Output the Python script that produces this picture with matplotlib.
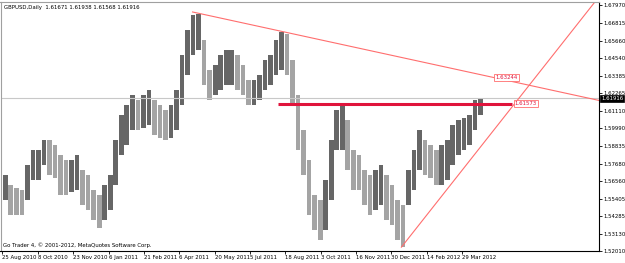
import numpy as np
import matplotlib
matplotlib.use("Agg")
import matplotlib.pyplot as plt

# ------------------
# data (weekly high / low, GBPUSD daily chart)
# ------------------
week_hi = [1.5694, 1.5629, 1.5609, 1.5596, 1.5759, 1.5856, 1.5856, 1.5921, 1.5921, 1.5889,
           1.5824, 1.5791, 1.5791, 1.5824, 1.5726, 1.5694, 1.5596, 1.5564, 1.5629, 1.5694,
           1.5921, 1.6083, 1.6148, 1.6213, 1.6180, 1.6213, 1.6245, 1.6180, 1.6148, 1.6116,
           1.6148, 1.6245, 1.6473, 1.6635, 1.6732, 1.6739, 1.6570, 1.6375, 1.6408, 1.6473,
           1.6505, 1.6505, 1.6473, 1.6408, 1.6310, 1.6310, 1.6343, 1.6440, 1.6473, 1.6570,
           1.6622, 1.6609, 1.6440, 1.6213, 1.5986, 1.5791, 1.5564, 1.5531, 1.5661, 1.5921,
           1.6116, 1.6148, 1.6051, 1.5856, 1.5824, 1.5726, 1.5694, 1.5726, 1.5759, 1.5694,
           1.5629, 1.5531, 1.5499, 1.5726, 1.5856, 1.5986, 1.5921, 1.5889, 1.5856, 1.5889,
           1.5921, 1.6018, 1.6051, 1.6064, 1.6083, 1.6180, 1.6194]
week_lo = [1.5531, 1.5434, 1.5434, 1.5434, 1.5531, 1.5661, 1.5661, 1.5759, 1.5694, 1.5674,
           1.5564, 1.5564, 1.5583, 1.5596, 1.5499, 1.5467, 1.5402, 1.5350, 1.5402, 1.5467,
           1.5629, 1.5824, 1.5889, 1.5986, 1.5986, 1.5999, 1.6018, 1.5953, 1.5934, 1.5921,
           1.5934, 1.5986, 1.6148, 1.6343, 1.6473, 1.6505, 1.6278, 1.6180, 1.6213, 1.6245,
           1.6278, 1.6278, 1.6245, 1.6213, 1.6148, 1.6148, 1.6180, 1.6245, 1.6278, 1.6343,
           1.6375, 1.6343, 1.6148, 1.5856, 1.5694, 1.5434, 1.5337, 1.5272, 1.5337, 1.5531,
           1.5856, 1.5856, 1.5726, 1.5596, 1.5596, 1.5499, 1.5434, 1.5467, 1.5499, 1.5402,
           1.5369, 1.5272, 1.5227, 1.5499, 1.5596, 1.5726, 1.5694, 1.5674, 1.5629, 1.5629,
           1.5661, 1.5759, 1.5824, 1.5856, 1.5889, 1.5986, 1.6083]

date_labels = ["25 Aug 2010", "8 Oct 2010", "23 Nov 2010", "6 Jan 2011", "21 Feb 2011",
               "6 Apr 2011", "20 May 2011", "5 Jul 2011", "18 Aug 2011", "3 Oct 2011",
               "16 Nov 2011", "30 Dec 2011", "14 Feb 2012", "29 Mar 2012"]
price_ticks = [1.67970, 1.66815, 1.65660, 1.64540, 1.63385, 1.62265, 1.61110, 1.59990,
               1.58835, 1.57680, 1.56560, 1.55405, 1.54285, 1.53130, 1.52010]

title = "GBPUSD,Daily  1.61671 1.61938 1.61568 1.61916"
last_close = 1.61916
# trend lines: (bar index, price)
down_line = [(172, 1.6752), (446, 1.63244)]
up_line = [(361, 1.5226), (476, 1.6271)]
level = 1.61573
level_span = (249.5, 461)

BARS_PER_LABEL = 32
DAYS_PER_WEEK = 5

fonts = ["DejaVu Sans Condensed", "DejaVu Sans"]
fs = 3.9
red = "#e0143c"
light_red = "#ff6e6e"


def main():
	fig = plt.figure(figsize=(6.25, 2.63), dpi=100)
	ax = fig.add_axes([0.5 / 625, 12 / 263, 598.5 / 625, 249.5 / 263])

	hi = np.array(week_hi)
	lo = np.array(week_lo)
	mid = (hi + lo) / 2
	up = np.r_[True, mid[1:] >= mid[:-1]]
	colors = np.where(up, "#666666", "#a4a4a4")
	x = np.arange(len(hi)) * DAYS_PER_WEEK
	ax.bar(x + 0.4, hi - lo, bottom=lo, width=DAYS_PER_WEEK - 0.8, align="edge",
	       color=colors, linewidth=0)

	# bid line
	ax.axhline(last_close, color="#c8c8c8", lw=0.8, zorder=1)

	# horizontal level
	ax.plot(level_span, [level, level], color=red, lw=2.2, solid_capstyle="butt")
	ax.annotate("%.5f" % level, xy=(level_span[1], level), xytext=(2, 0),
	            textcoords="offset points", ha="left", va="center",
	            fontsize=fs, family=fonts, color=red,
	            bbox=dict(boxstyle="square,pad=0.2", fc="white", ec=light_red, lw=0.6))

	xmin, xmax = -1.8, 539.8
	ymin, ymax = 1.5201, 1.6820

	# descending trend line (ray to the right)
	(x0, y0), (x1, y1) = down_line
	k = (y1 - y0) / (x1 - x0)
	ax.plot([x0, xmax], [y0, y0 + k * (xmax - x0)], color=light_red, lw=0.8)
	ax.annotate("%.5f" % y1, xy=(x1, y1), xytext=(0, 0),
	            textcoords="offset points", ha="left", va="center",
	            fontsize=fs, family=fonts, color=red,
	            bbox=dict(boxstyle="square,pad=0.2", fc="white", ec=light_red, lw=0.6))

	# ascending trend line (ray up)
	(x0, y0), (x1, y1) = up_line
	k = (y1 - y0) / (x1 - x0)
	xe = x0 + (ymax - y0) / k
	ax.plot([x0, xe], [y0, ymax], color=light_red, lw=0.8)

	ax.set_xlim(xmin, xmax)
	ax.set_ylim(ymin, ymax)

	# axes look
	ax.yaxis.tick_right()
	ax.set_yticks(price_ticks)
	ax.set_yticklabels(["%.5f" % p for p in price_ticks], fontsize=fs, family=fonts)
	ax.set_xticks(np.arange(len(date_labels)) * BARS_PER_LABEL)
	ax.set_xticklabels(date_labels, fontsize=fs, family=fonts, ha="left")
	ax.tick_params(axis="both", length=2.2, width=0.6, pad=1, colors="black")
	for s in ["left", "top"]:
		ax.spines[s].set_color("#a0a0a0")
		ax.spines[s].set_linewidth(0.8)
	for s in ["right", "bottom"]:
		ax.spines[s].set_color("black")
		ax.spines[s].set_linewidth(0.8)

	# last price tag
	ax.annotate("%.5f" % last_close, xy=(1.0, last_close), xycoords=("axes fraction", "data"),
	            xytext=(1.5, 0), textcoords="offset points", ha="left", va="center",
	            fontsize=fs, family=fonts, color="white",
	            bbox=dict(boxstyle="square,pad=0.2", fc="black", ec="black", lw=0.5))

	fig.text(4 / 625, 1 - 7 / 263, title, fontsize=fs, family=fonts, va="center")
	fig.text(3 / 625, 1 - 245 / 263, "Go Trader 4, \u00a9 2001-2012, MetaQuotes Software Corp.",
	         fontsize=fs, family=fonts, va="center")

	fig.savefig("out.png", dpi=100)
	plt.close(fig)


if __name__ == "__main__":
	main()
